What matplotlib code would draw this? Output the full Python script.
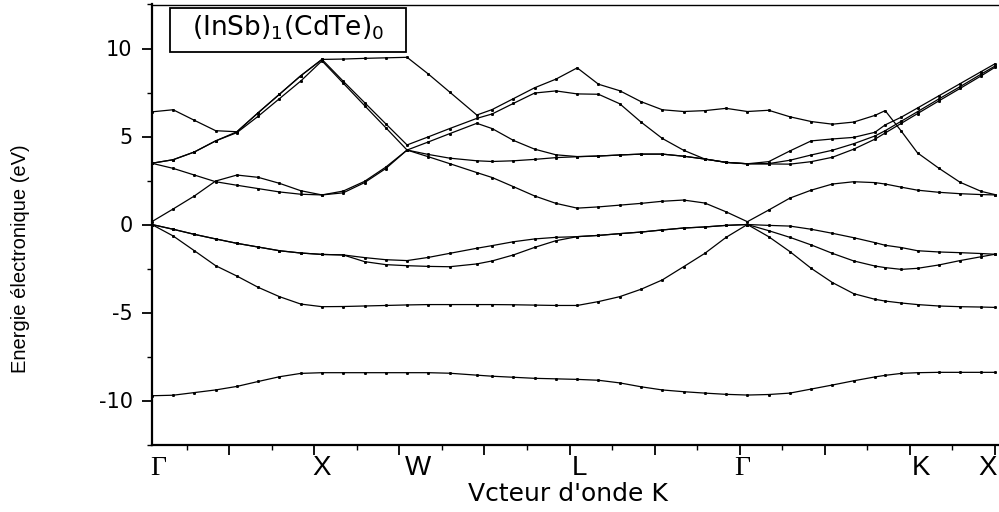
import matplotlib
matplotlib.use("Agg")
import matplotlib.pyplot as plt
from matplotlib.patches import Rectangle
from matplotlib.ticker import MultipleLocator, FixedLocator

plt.rcParams["axes.unicode_minus"] = False

# k-path positions (Γ, X, W, L, Γ, K, X)
k_path = [0.09, 0.34, 0.59, 0.84, 1.09, 1.34, 1.59, 1.84, 2.09,
          2.34, 2.59, 2.84, 3.09,
          3.34, 3.59, 3.91, 4.09, 4.34, 4.59, 4.84, 5.09,
          5.34, 5.59, 5.84, 6.09, 6.34, 6.59, 6.84, 7.09,
          7.34, 7.59, 7.84, 8.09, 8.34, 8.59, 8.71, 8.90, 9.09, 9.34, 9.59, 9.84, 10.0]

# band energies (eV)
band_s = [-9.73, -9.70, -9.55, -9.40, -9.20, -8.92, -8.65, -8.46, -8.42,
          -8.42, -8.42, -8.42, -8.42,
          -8.42, -8.45, -8.56, -8.62, -8.68, -8.74, -8.77, -8.80,
          -8.85, -9.00, -9.22, -9.40, -9.50, -9.58, -9.65, -9.69,
          -9.66, -9.58, -9.35, -9.12, -8.88, -8.66, -8.57, -8.46, -8.42, -8.40, -8.40, -8.40, -8.40]

band_v2 = [0.00, -0.65, -1.49, -2.34, -2.93, -3.57, -4.10, -4.52, -4.67,
           -4.66, -4.63, -4.60, -4.57,
           -4.55, -4.55, -4.55, -4.55, -4.56, -4.58, -4.60, -4.60,
           -4.38, -4.10, -3.68, -3.15, -2.40, -1.64, -0.73, 0.00,
           -0.69, -1.54, -2.49, -3.30, -3.93, -4.25, -4.35, -4.46, -4.55, -4.63, -4.67, -4.69, -4.71]

band_v3 = [0.00, -0.27, -0.56, -0.82, -1.07, -1.28, -1.49, -1.62, -1.70,
           -1.73, -2.11, -2.28, -2.34,
           -2.38, -2.40, -2.24, -2.07, -1.73, -1.30, -0.92, -0.69,
           -0.62, -0.52, -0.43, -0.31, -0.20, -0.14, -0.05, 0.00,
           -0.35, -0.73, -1.16, -1.64, -2.07, -2.36, -2.45, -2.55, -2.49, -2.30, -2.05, -1.83, -1.69]

band_v4 = [0.00, -0.27, -0.56, -0.82, -1.07, -1.28, -1.49, -1.62, -1.70,
           -1.73, -1.88, -2.00, -2.05,
           -1.87, -1.64, -1.35, -1.20, -0.98, -0.82, -0.73, -0.69,
           -0.62, -0.52, -0.43, -0.31, -0.20, -0.14, -0.05, 0.00,
           -0.05, -0.09, -0.27, -0.50, -0.75, -1.03, -1.18, -1.31, -1.49, -1.56, -1.60, -1.65, -1.69]

band_c1 = [0.16, 0.88, 1.62, 2.47, 2.81, 2.68, 2.34, 1.92, 1.68,
           1.90, 2.45, 3.26, 4.23,
           3.85, 3.46, 2.95, 2.67, 2.15, 1.62, 1.20, 0.93,
           1.00, 1.10, 1.20, 1.32, 1.39, 1.22, 0.72, 0.16,
           0.82, 1.50, 1.95, 2.30, 2.43, 2.38, 2.30, 2.12, 1.95, 1.83, 1.75, 1.70, 1.68]

band_c2 = [3.48, 3.19, 2.81, 2.43, 2.23, 2.04, 1.85, 1.72, 1.68,
           1.80, 2.38, 3.18, 4.23,
           3.98, 3.77, 3.62, 3.58, 3.62, 3.70, 3.80, 3.85,
           3.89, 3.95, 4.00, 4.00, 3.88, 3.72, 3.53, 3.45,
           3.44, 3.43, 3.57, 3.82, 4.28, 4.85, 5.20, 5.75, 6.30, 7.02, 7.73, 8.45, 8.93]

band_c3 = [3.48, 3.68, 4.12, 4.75, 5.22, 6.15, 7.15, 8.15, 9.30,
           8.03, 6.76, 5.50, 4.23,
           4.69, 5.16, 5.75, 5.45, 4.78, 4.28, 3.96, 3.86,
           3.89, 3.95, 4.00, 4.00, 3.88, 3.72, 3.53, 3.45,
           3.46, 3.65, 3.95, 4.22, 4.59, 5.03, 5.33, 5.87, 6.41, 7.13, 7.83, 8.55, 9.00]

band_c4 = [3.48, 3.68, 4.12, 4.75, 5.27, 6.35, 7.40, 8.45, 9.38,
           8.14, 6.93, 5.72, 4.52,
           4.98, 5.45, 6.03, 6.28, 6.88, 7.47, 7.59, 7.42,
           7.40, 6.86, 5.82, 4.89, 4.22, 3.72, 3.53, 3.45,
           3.57, 4.18, 4.75, 4.86, 4.95, 5.24, 5.66, 6.10, 6.62, 7.31, 8.00, 8.69, 9.13]

band_c5 = [6.40, 6.52, 5.92, 5.33, 5.27, 6.35, 7.40, 8.45, 9.38,
           9.40, 9.44, 9.47, 9.50,
           8.55, 7.53, 6.22, 6.53, 7.15, 7.77, 8.26, 8.90,
           7.97, 7.60, 6.98, 6.52, 6.42, 6.47, 6.60, 6.42,
           6.49, 6.12, 5.85, 5.70, 5.82, 6.20, 6.47, 5.30, 4.07, 3.20, 2.40, 1.88, 1.70]

# high-symmetry point labels under the axis
sym_labels = ["Γ", "X", "W", "L", "Γ", "K", "X"]
sym_label_x = [0.17, 2.09, 3.22, 5.12, 7.03, 9.13, 9.92]

bands = [band_s, band_v2, band_v3, band_v4,
         band_c1, band_c2, band_c3, band_c4, band_c5]

W, H = 999, 512
fig = plt.figure(figsize=(W / 100, H / 100), dpi=100)
ax = fig.add_axes([152 / W, 1 - 444.5 / H, (998.5 - 152) / W, 440 / H])

for e in bands:
    ax.plot(k_path, e, color="black", lw=0.9, marker="s", ms=1.1,
            mec="black", mfc="black", clip_on=False)

ax.set_xlim(0.092, 10.042)
ax.set_ylim(-12.5, 12.5)

ax.spines["right"].set_visible(False)
ax.spines["left"].set_linewidth(1.6)
ax.spines["bottom"].set_linewidth(1.6)
ax.spines["top"].set_linewidth(1.0)

ax.yaxis.set_major_locator(MultipleLocator(5))
ax.yaxis.set_minor_locator(MultipleLocator(2.5))
ax.xaxis.set_major_locator(FixedLocator(range(1, 11)))
ax.xaxis.set_minor_locator(FixedLocator([0.5 + i for i in range(10)]))
ax.tick_params(axis="both", which="major", direction="out", length=7, width=1.3)
ax.tick_params(axis="both", which="minor", direction="out", length=3.5, width=1.0)
ax.tick_params(axis="x", which="both", labelbottom=False)
ax.tick_params(axis="y", which="major", pad=7, labelsize=15)
for lab in ax.get_yticklabels():
    lab.set_family("DejaVu Sans")

for name, x in zip(sym_labels, sym_label_x):
    fam = "Liberation Serif" if name == "Γ" else "Liberation Sans"
    ax.text(x, -13.85, name, ha="center", va="center", fontsize=20,
            family=fam, transform=ax.transData, clip_on=False)

fig.text(568 / W, 1 - 494 / H, "Vcteur d'onde K", ha="center", va="center",
         fontsize=18, family="DejaVu Sans")
fig.text(21 / W, 1 - 259 / H, "Energie électronique (eV)", ha="center",
         va="center", rotation=90, fontsize=14.5, family="Liberation Sans")

ax.add_patch(Rectangle((0.0213, 0.892), 0.2788, 0.1, transform=ax.transAxes,
                       fill=False, ec="black", lw=1.3, zorder=5))
ax.text(0.161, 0.9466, r"(InSb)$_1$(CdTe)$_0$", transform=ax.transAxes,
        ha="center", va="center", fontsize=19, family="DejaVu Sans", zorder=6)

fig.savefig("out.png", dpi=100)
